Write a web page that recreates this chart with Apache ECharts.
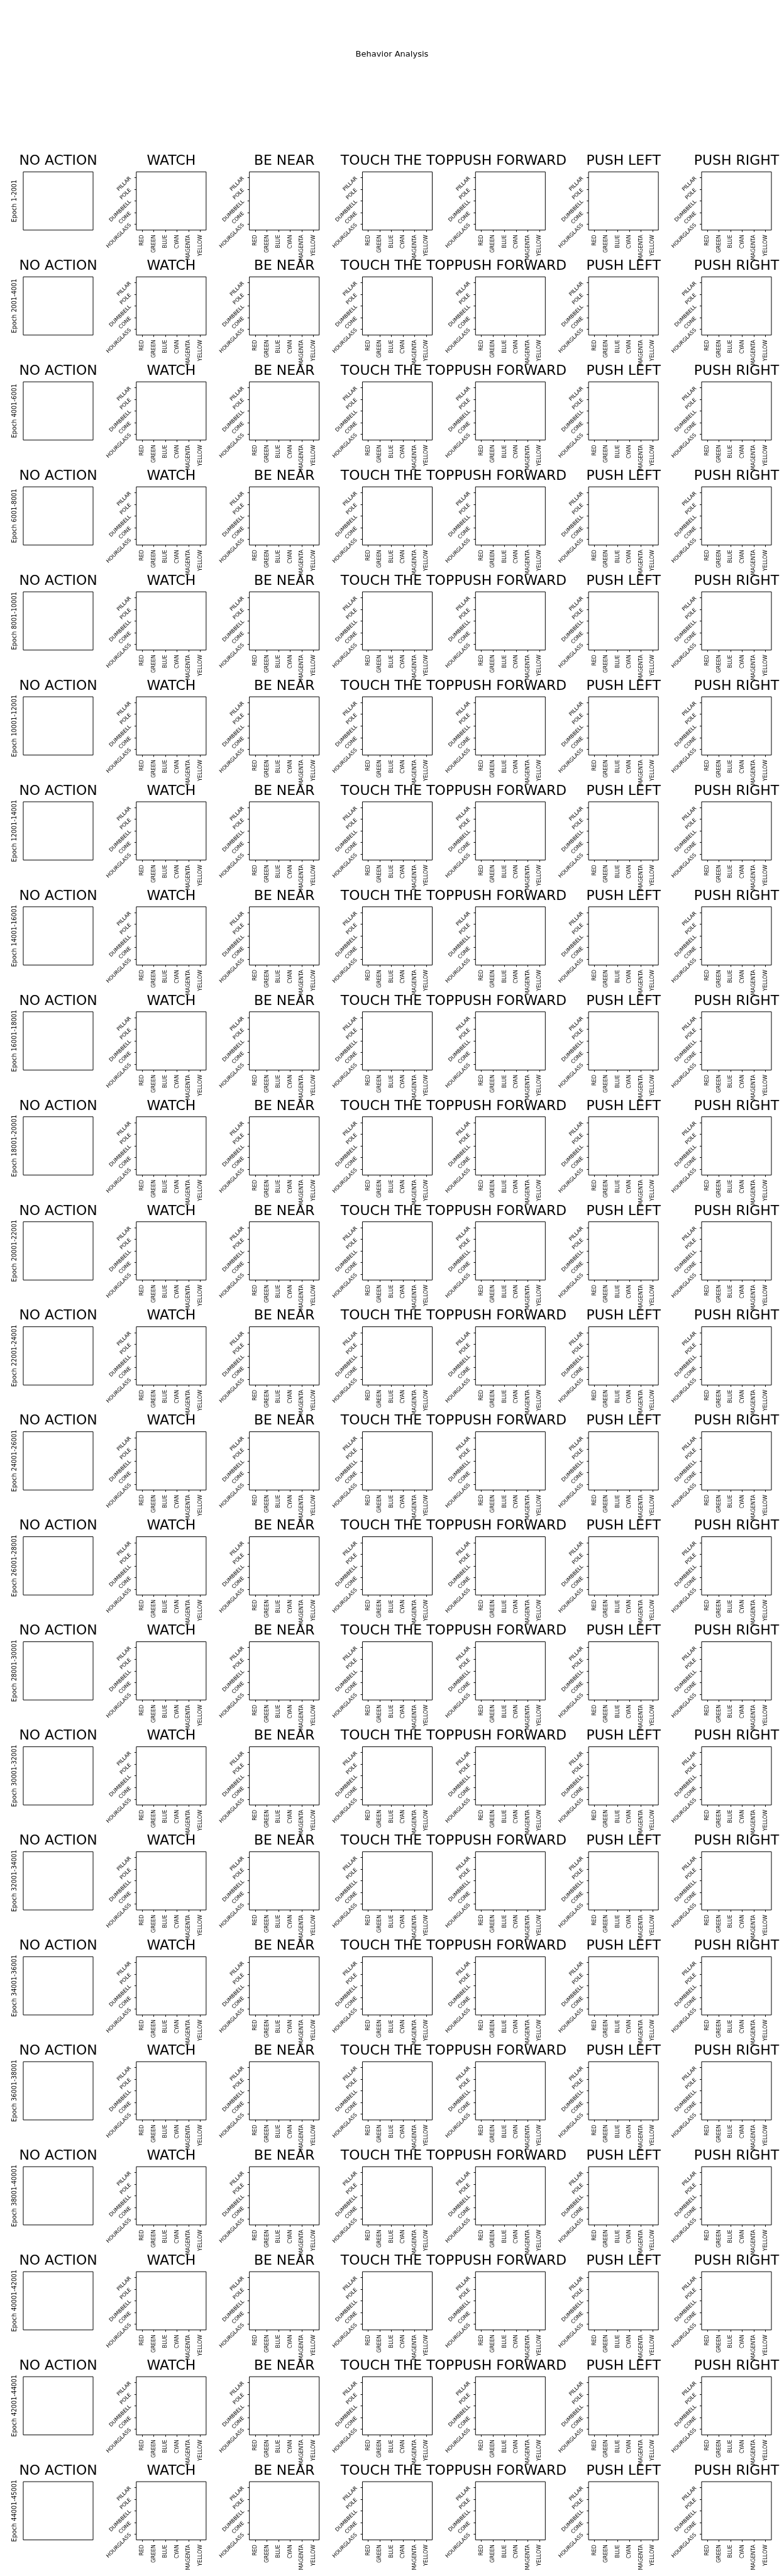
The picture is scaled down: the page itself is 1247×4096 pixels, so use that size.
<!DOCTYPE html>
<html>
<head>
<meta charset="utf-8">
<script src="https://cdn.jsdelivr.net/npm/echarts@6/dist/echarts.min.js"></script>
<style>
html,body{margin:0;padding:0;background:#fff;}
#chart{width:1247px;height:4096px;}
</style>
</head>
<body>
<div id="chart"></div>
<script>
// ---- data ----
const figureTitle = 'Behavior Analysis';
const actions = ['NO ACTION', 'WATCH', 'BE NEAR', 'TOUCH THE TOP', 'PUSH FORWARD', 'PUSH LEFT', 'PUSH RIGHT'];
const colorLabels = ['RED', 'GREEN', 'BLUE', 'CYAN', 'MAGENTA', 'YELLOW'];
const shapeLabels = ['PILLAR', 'POLE', 'DUMBBELL', 'CONE', 'HOURGLASS'];
const epochRanges = [
  'Epoch 1-2001', 'Epoch 2001-4001', 'Epoch 4001-6001', 'Epoch 6001-8001',
  'Epoch 8001-10001', 'Epoch 10001-12001', 'Epoch 12001-14001', 'Epoch 14001-16001',
  'Epoch 16001-18001', 'Epoch 18001-20001', 'Epoch 20001-22001', 'Epoch 22001-24001',
  'Epoch 24001-26001', 'Epoch 26001-28001', 'Epoch 28001-30001', 'Epoch 30001-32001',
  'Epoch 32001-34001', 'Epoch 34001-36001', 'Epoch 36001-38001', 'Epoch 38001-40001',
  'Epoch 40001-42001', 'Epoch 42001-44001', 'Epoch 44001-45001'
];
// recorded cells per panel: [colorIndex, shapeIndex] — every panel is empty in the reference
const panelCells = [];

// ---- layout (reference pixel units, scaled to the window) ----
const W = 1247, H = 4096, RW = 2100, RH = 6900;
const kx = W / RW, ky = H / RH, k = (kx + ky) / 2;
const AX_LEFT0 = 62.3, COL_PITCH = 302.83, AX_W = 187;
const AX_TOP0 = 460.3, ROW_PITCH = 281.23, AX_H = 156;
const FONT = "'DejaVu Sans', sans-serif";
const TITLE_FS = 37 * k, TICK_FS = 13.9 * k, YLABEL_FS = 16.5 * k, SUP_FS = 22 * k;

const grids = [], xAxes = [], yAxes = [], series = [], titles = [];

titles.push({
  text: figureTitle, left: 1050 * kx, top: 145.5 * ky, textAlign: 'center', textVerticalAlign: 'middle',
  padding: 0, itemGap: 0,
  textStyle: { fontFamily: FONT, fontSize: SUP_FS, fontWeight: 'normal', color: '#000', lineHeight: SUP_FS }
});

let gi = 0;
epochRanges.forEach((epoch, r) => {
  actions.forEach((act, c) => {
    const left = (AX_LEFT0 + c * COL_PITCH) * kx;
    const top = (AX_TOP0 + r * ROW_PITCH) * ky;
    const w = AX_W * kx, h = AX_H * ky;
    grids.push({
      left: left, top: top, width: w, height: h, show: true,
      borderColor: '#000', borderWidth: 1, backgroundColor: 'transparent',
      containLabel: false, outerBoundsMode: 'none'
    });
    titles.push({
      text: act, left: left + w / 2, top: top - 28.45 * ky, textAlign: 'center', textVerticalAlign: 'middle',
      padding: 0,
      textStyle: { fontFamily: FONT, fontSize: TITLE_FS, fontWeight: 'normal', color: '#000', lineHeight: TITLE_FS }
    });
    const first = c === 0;
    xAxes.push({
      type: 'category', gridIndex: gi, data: colorLabels, position: 'bottom',
      axisLine: { show: false },
      axisTick: { show: !first, alignWithLabel: true, interval: 0, length: 4.86 * k, lineStyle: { color: '#000', width: 1 } },
      axisLabel: { show: !first, interval: 0, rotate: 90, margin: 12.7 * k, color: '#000', fontFamily: FONT, fontSize: TICK_FS },
      splitLine: { show: false }
    });
    yAxes.push({
      type: 'category', gridIndex: gi, data: shapeLabels, inverse: true, position: 'left',
      name: first ? epoch : '', nameLocation: 'middle', nameRotate: 90, nameGap: 8.3,
      nameTextStyle: { fontFamily: FONT, fontSize: YLABEL_FS, color: '#000' },
      axisLine: { show: false },
      axisTick: { show: !first, alignWithLabel: true, interval: 0, length: 4.86 * k, lineStyle: { color: '#000', width: 1 } },
      axisLabel: { show: !first, interval: 0, rotate: 45, margin: 9.5, color: '#000', fontFamily: FONT, fontSize: TICK_FS },
      splitLine: { show: false }
    });
    series.push({
      type: 'scatter', xAxisIndex: gi, yAxisIndex: gi, silent: true,
      data: panelCells.filter(p => p[2] === r && p[3] === c).map(p => [p[0], p[1]])
    });
    gi++;
  });
});

const chart = echarts.init(document.getElementById('chart'), null, { renderer: 'canvas', width: W, height: H });
chart.setOption({
  backgroundColor: '#fff',
  animation: false,
  title: titles,
  grid: grids,
  xAxis: xAxes,
  yAxis: yAxes,
  series: series
});
</script>
</body>
</html>
